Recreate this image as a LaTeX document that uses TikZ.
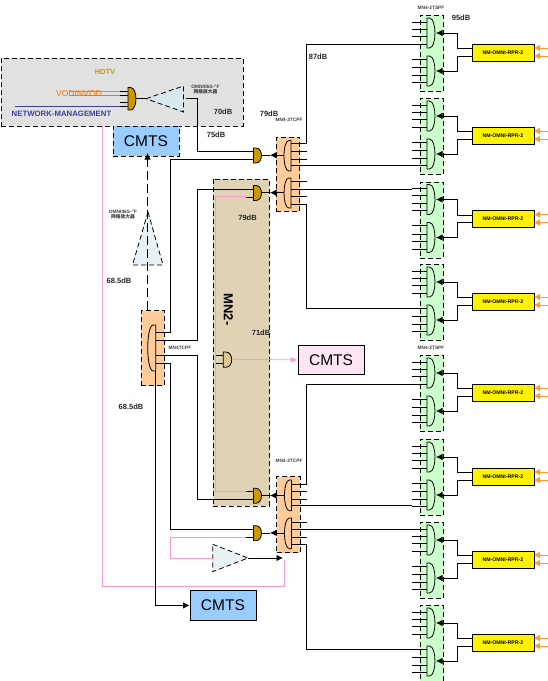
\documentclass[tikz,border=0pt]{standalone}
\usepackage{fontspec}
\setmainfont{Liberation Sans}
\newfontfamily\cjkfont{Noto Sans CJK SC}
\usepackage{xcolor}
\usetikzlibrary{arrows.meta}

\definecolor{grayfill}{HTML}{E1E1E1}
\definecolor{orangefill}{HTML}{FFCC99}
\definecolor{greenfill}{HTML}{CCFFCC}
\definecolor{tanfill}{HTML}{E0D2B4}
\definecolor{goldfill}{HTML}{CC9900}
\definecolor{pinkline}{HTML}{FF99CC}
\definecolor{orangetip}{HTML}{FF9933}
\definecolor{ampfill}{HTML}{D8E8EC}
\definecolor{cmtsblue}{HTML}{99CCFF}
\definecolor{cmtspink}{HTML}{FDE5F3}
\definecolor{navytext}{HTML}{3F3F9F}

% half round gate: options, x of flat side, top, signed width, bottom
\newcommand{\dgate}[5]{\draw[#1] (#2,#3) -- ({#2+0.3*#4},#3) .. controls ({#2+1.23*#4},#3) and ({#2+1.23*#4},#5) .. ({#2+0.3*#4},#5) -- (#2,#5) -- cycle;}

\begin{document}
\begin{tikzpicture}[
  x=1pt, y=-1pt,
  wire/.style={line width=0.8pt},
  arrow/.style={line width=0.8pt,-{Latex[length=6.5pt,width=6.5pt]}},
  pinkwire/.style={draw=pinkline,line width=0.8pt},
  feed/.style={line width=1pt,draw=orangetip,-{Latex[length=6.5pt,width=7pt]}},
  dashbox/.style={draw,line width=0.9pt,dash pattern=on 5pt off 3pt,inner sep=0pt,anchor=north west},
  group/.style={dashbox,fill=greenfill,minimum width=23.5pt,minimum height=76pt},
  splitter/.style={dashbox,fill=orangefill,minimum width=23.3pt},
  rpr/.style={draw,line width=0.8pt,fill=yellow,minimum width=62pt,minimum height=17pt,inner sep=0pt,anchor=north west,font=\bfseries\fontsize{5.2}{6}\selectfont},
  cmts/.style={inner sep=0pt,minimum width=66pt,minimum height=29.5pt,anchor=north west,font=\fontsize{15.5}{17}\selectfont},
  db/.style={font=\bfseries\fontsize{7.5}{9}\selectfont,text=black!85},
  tiny/.style={font=\bfseries\fontsize{4.8}{5.6}\selectfont,text=black!75,align=center,inner sep=0pt},
  amp/.style={draw,line width=0.8pt,dash pattern=on 5pt off 3pt,fill=ampfill}
]
\useasboundingbox (0,0) rectangle (548,681);

% Head end
\node[dashbox,fill=grayfill,minimum width=242pt,minimum height=68pt] (head) at (0.5,57.5) {};
\node[text=goldfill,font=\bfseries\fontsize{7.5}{9}\selectfont] (hdtv) at (105,72) {HDTV};
\node[text=orange!90!red,font=\fontsize{8.6}{10}\selectfont] (vod) at (79,93.5) {VODINVOD};
\node[text=navytext,font=\bfseries\fontsize{7.8}{10}\selectfont] (mgmt) at (61.5,114) {NETWORK-MANAGEMENT};
\draw[draw=goldfill,line width=0.8pt] (70,91.7) -- (120,91.7);
\draw[draw=orange!90!red,line width=0.8pt] (69,95) -- (120,95);
\draw[draw=navytext,line width=0.8pt] (15,106.7) -- (120,106.7);
\foreach \y in {91.7,95,102.7,106.7} \draw[wire] (120,\y) -- (128,\y);
\dgate{wire,fill=goldfill}{128}{87.5}{8}{110}
\coordinate (combout) at (136,98.7);
\coordinate (amp1in) at (146,98.7);
\coordinate (amp1out) at (186,98.7);
\draw[wire] (combout) -- (amp1in);
\draw[amp] (amp1in) -- (183.5,86) -- (183.5,112) -- cycle;

% Pink returns
\draw[pinkwire] (102.7,125.5) -- (102.7,586) -- (284.3,586) -- (284.3,560);

% Tan block
\node[dashbox,fill=tanfill,minimum width=56pt,minimum height=327.5pt] (mn2) at (212.5,178.5) {};
\node[rotate=-90,font=\bfseries\fontsize{13}{15}\selectfont] (mn2lab) at (228.5,309.5) {MN2-};
\draw[pinkwire] (246,196.5) -- (215.5,196.5) -- (215.5,491.7) -- (246,491.7);

% CMTS boxes
\node[cmts,dashbox,fill=cmtsblue] (cmts1) at (112.5,126) {CMTS};
\node[cmts,draw,line width=0.8pt,fill=cmtspink] (cmts2) at (297.7,344.7) {CMTS};
\node[cmts,draw,line width=0.8pt,fill=cmtsblue] (cmts3) at (189.5,590.3) {CMTS};

% Splitters
\node[splitter,minimum height=74.5pt] (sp1) at (276,136.5) {};
\node[splitter,minimum height=76pt] (sp2) at (276.3,476.3) {};
\node[splitter,minimum height=75pt] (sp3) at (140.5,310.3) {};

% Ports of the two 2T splitters
\foreach \p/\y in {1/143,2/151.3,3/159.3,4/165.3,5/181,6/189,7/196.3,8/204}{
  \coordinate (a\p) at (291,\y);
  \coordinate (b\p) at (306.5,\y);
  \draw[wire] (a\p) -- (b\p);
}
\foreach \p/\y in {1/484.3,2/491.7,3/499,4/505.7,5/522.3,6/529.3,7/537.3,8/544.7}{
  \coordinate (c\p) at (291.5,\y);
  \coordinate (d\p) at (306.5,\y);
  \draw[wire] (c\p) -- (d\p);
}
\dgate{wire}{291}{140.5}{-7}{171}
\dgate{wire}{291}{178}{-7}{208}
\dgate{wire}{291.5}{480}{-7}{510.7}
\dgate{wire}{291.5}{518}{-7}{548.7}

% Gold gates
\foreach \n/\t in {1/148,2/185.5,3/488.3,4/525.7}{
  \coordinate (gd\n a) at (246,\t+3.5);
  \coordinate (gd\n b) at (246,\t+11.5);
  \coordinate (gd\n o) at (261.5,\t+7.2);
  \coordinate (gd\n t) at (270,\t+7.2);
  \coordinate (gd\n s) at (284,\t+7.2);
  \draw[wire] (gd\n a) -- (253.5,\t+3.5);
  \draw[wire] (gd\n b) -- (253.5,\t+11.5);
  \dgate{wire,fill=goldfill}{253.5}{\t}{8}{\t+15}
  \draw[wire] (gd\n o) -- (gd\n t);
  \draw[arrow] (gd\n s) -- (gd\n t);
}

% Left splitter
\dgate{wire}{155.7}{325}{-8}{371}
\coordinate (l1) at (155.7,332.7);
\coordinate (l2) at (155.7,340);
\coordinate (l3) at (155.7,355.4);
\coordinate (l4) at (155.7,363.3);
\coordinate (lstem) at (155.7,371);
\node[tiny] (sp3lab) at (180,348) {MN4TCPF};

% Amplifiers
\coordinate (amp2tip) at (148,212);
\draw[amp,fill=ampfill!60!white] (amp2tip) -- (163,265) -- (132.5,265) -- cycle;
\coordinate (amp3in) at (212.7,558);
\coordinate (amp3out) at (248,558);
\draw[amp,fill=ampfill!60!white] (amp3in |- 0,544.3) -- (amp3out) -- (212.7,571.7) -- cycle;

% Middle gate
\draw[wire] (216,355.5) -- (223.3,355.5);
\draw[wire] (216,363.5) -- (223.3,363.5);
\dgate{wire,fill=tanfill!80!goldfill}{223.3}{352}{8.4}{367.3}
\coordinate (midout) at (231.7,359.3);

% Pointers
\draw[wire] (amp1out) -- ++(11.5,0) |- (gd1a -| 253.5,0);
\draw[wire] (l1) -- (170.7,332.7) |- (gd1b);
\draw[wire] (l2) -- (197.3,340) |- (gd2a);
\draw[wire] (l3) -- (197.3,355.4) |- (gd3b);
\draw[wire] (l4) -- (170.7,363.3) |- (gd4a);
\draw[arrow] (lstem) |- (cmts3.west);
\draw[arrow,dash pattern=on 9pt off 4pt] (147.5,310.3) -- (147.5,153);
\draw[pinkwire,-{Latex[length=7pt,width=6pt]}] (midout) -- (cmts2.west);
\draw[pinkwire] (gd4b) -- (170.7,537.2) |- (amp3in);
\draw[arrow] (amp3out) -- (283,558);

% Green groups and their feeds
\foreach \i/\t in {1/15,2/98,3/181.5,4/264,5/355,6/439,7/522,8/605}{
  \node[group] (grp\i) at (419.5,\t) {};
  \foreach \p/\d in {1/7.3,2/14,3/21.5,4/29,5/44.3,6/52.7,7/60.3,8/67.7}{
    \coordinate (g\i s\p) at (412,\t+\d);
    \draw[wire] (g\i s\p) -- (427,\t+\d);
  }
  \dgate{wire}{427}{\t+3}{8}{\t+33}
  \dgate{wire}{427}{\t+41}{8}{\t+71}
  \coordinate (g\i t) at (436,\t+18);
  \coordinate (g\i u) at (436,\t+56);
  \node[rpr] (nm\i) at (471.5,\t+28.5) {NM-OMNI-RPR-2};
  \coordinate (nm\i a) at (471.5,\t+33.5);
  \coordinate (nm\i b) at (471.5,\t+41);
  \draw[arrow] (nm\i a) -- ++(-14,0) |- (g\i t);
  \draw[arrow] (nm\i b) -- ++(-14,0) |- (g\i u);
  \coordinate (ext\i a) at (548,\t+33);
  \coordinate (ext\i b) at (548,\t+41);
  \draw[feed] (ext\i a) -- (533.7,\t+33);
  \draw[feed] (ext\i b) -- (533.7,\t+41);
}

% Trunks
\draw[wire] (b1) |- (g1s4);
\draw[wire] (b4) -- (g2s8 |- b4);
\draw[wire] (b6) -- (g3s1 |- b6);
\draw[wire] (b8) |- (g4s5);
\draw[wire] (d1) |- (g5s4);
\draw[wire] (d4) -- (g6s8 |- d4);
\draw[wire] (d6) -- (g7s1 |- d6);
\draw[wire] (d8) |- (g8s5);

% Labels
\node[db] (db95) at (461,18) {95dB};
\node[db] (db87) at (318,57) {87dB};
\node[db] (db79a) at (269,113.5) {79dB};
\node[db] (db75) at (216,135) {75dB};
\node[db] (db70) at (223,112) {70dB};
\node[db] (db79b) at (247.5,218) {79dB};
\node[db] (db71) at (261,333) {71dB};
\node[db] (db68a) at (119,281) {68.5dB};
\node[db] (db68b) at (131,406.5) {68.5dB};
\node[tiny] (lab1) at (431,8) {MN4-2TSPF};
\node[tiny] (lab2) at (431,348) {MN4-2TSPF};
\node[tiny] (lab3) at (289,119.5) {MN4-2TCPF};
\node[tiny] (lab4) at (289,461) {MN4-2TCPF};
\node[tiny] (amp1lab) at (205.5,90) {OMNI06S-''F\\[-0.5pt]{\cjkfont 网络放大器}};
\node[tiny] (amp2lab) at (123,215) {OMNI06S-''F\\[-0.5pt]{\cjkfont 网络放大器}};
\end{tikzpicture}
\end{document}
